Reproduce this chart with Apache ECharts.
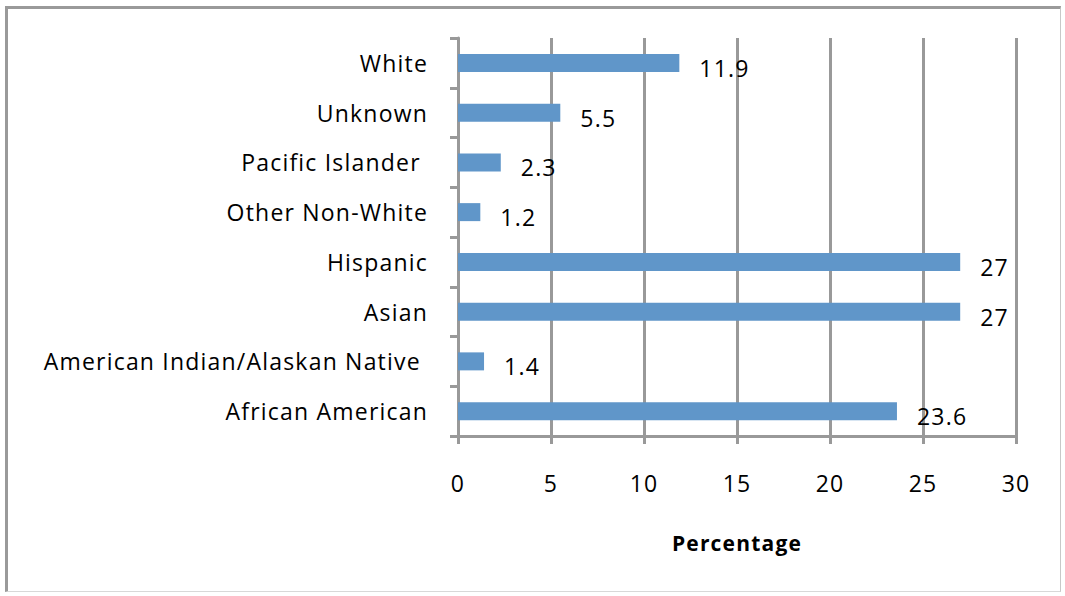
<!DOCTYPE html>
<html>
<head>
<meta charset="utf-8">
<script src="https://cdn.jsdelivr.net/npm/echarts@6/dist/echarts.min.js"></script>
<style>
html,body{margin:0;padding:0;background:#fff;}
#frame{position:absolute;left:5px;top:6px;width:1056px;height:586px;border-top:3px solid #9a9a9a;border-left:3px solid #9a9a9a;border-right:1px solid #c8c8c8;border-bottom:1px solid #d8d8d8;box-sizing:border-box;}
#chart{position:absolute;left:0;top:0;width:1065px;height:596px;}
#chart text{letter-spacing:1.2px;}
</style>
</head>
<body>
<div id="frame"></div>
<div id="chart"></div>
<script>
const categories = ['African American', 'American Indian/Alaskan Native ', 'Asian', 'Hispanic', 'Other Non-White', 'Pacific Islander ', 'Unknown', 'White'];
const values = [23.6, 1.4, 27, 27, 1.2, 2.3, 5.5, 11.9];
const xTicks = [0, 5, 10, 15, 20, 25, 30];
const axisTitle = 'Percentage';

const FONT = 'Open Sans';
const chart = echarts.init(document.getElementById('chart'), null, {renderer: 'svg'});
chart.setOption({
  animation: false,
  grid: {left: 458, right: 49, top: 38, bottom: 160, containLabel: false},
  xAxis: {
    type: 'value', min: xTicks[0], max: xTicks[xTicks.length - 1], interval: 5,
    name: axisTitle, nameLocation: 'middle', nameGap: 96,
    nameTextStyle: {fontFamily: FONT, fontWeight: 'bold', fontSize: 21, color: '#000'},
    axisLine: {show: true, lineStyle: {color: '#999', width: 3}},
    axisTick: {show: true, length: 8, lineStyle: {color: '#999', width: 3}},
    axisLabel: {margin: 35, fontFamily: FONT, fontSize: 23, color: '#000'},
    splitLine: {show: true, lineStyle: {color: '#999', width: 3}}
  },
  yAxis: {
    type: 'category', data: categories,
    axisLine: {show: true, lineStyle: {color: '#999', width: 3}},
    axisTick: {show: true, length: 8, alignWithLabel: false, lineStyle: {color: '#999', width: 3}},
    axisLabel: {margin: 30, fontFamily: FONT, fontSize: 23, color: '#000', padding: [3, 0, 0, 0]},
    splitLine: {show: false}
  },
  series: [{
    type: 'bar', data: values, barWidth: 18,
    itemStyle: {color: '#6096C9'},
    label: {show: true, position: 'right', distance: 20, offset: [0, 5], fontFamily: FONT, fontSize: 23, color: '#000'}
  }]
});
</script>
</body>
</html>
